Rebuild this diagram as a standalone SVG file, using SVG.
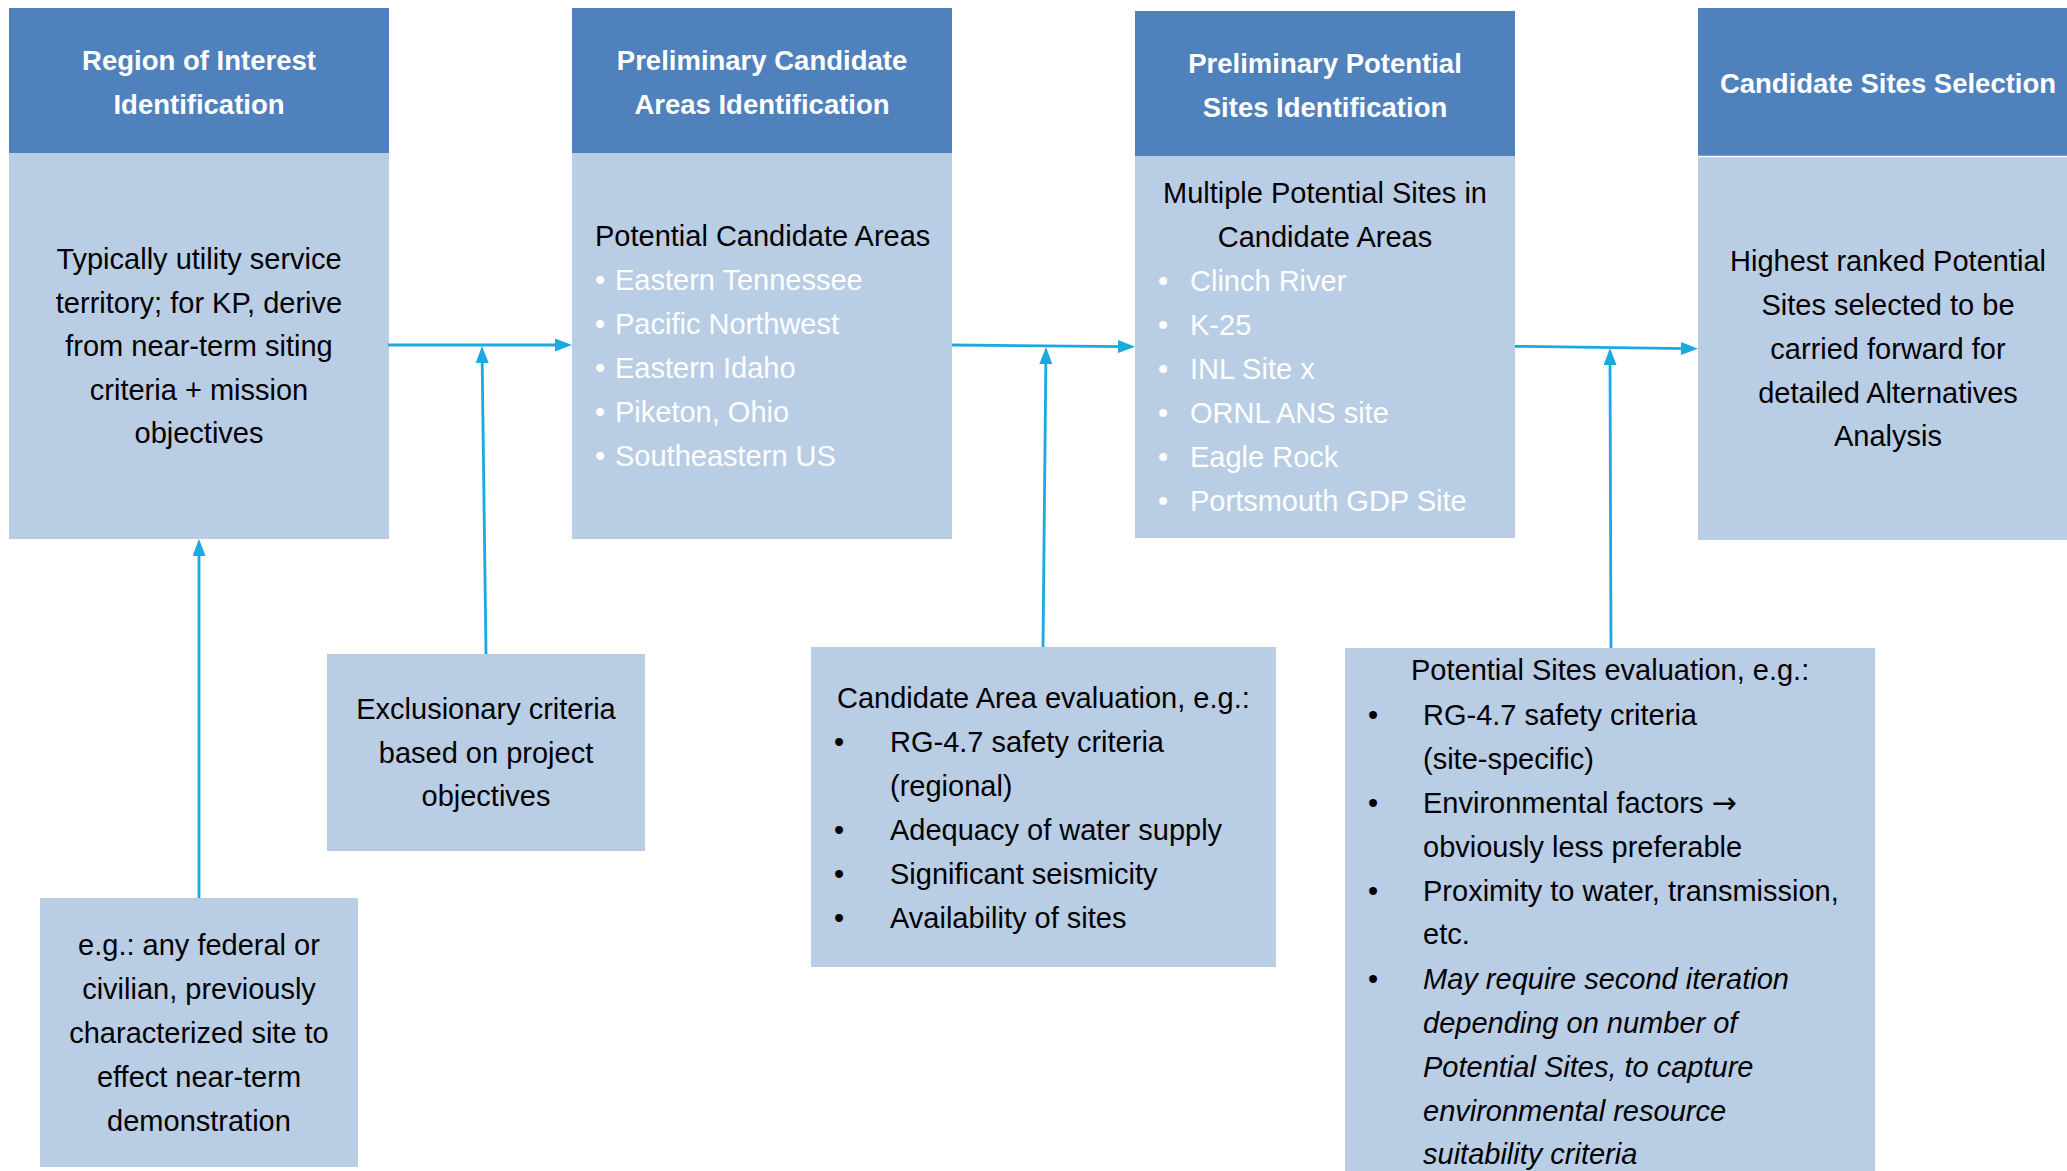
<svg xmlns="http://www.w3.org/2000/svg" width="2067" height="1171" viewBox="0 0 2067 1171">
<defs>
<style>
.hdr{fill:#4F81BD}
.bd{fill:#B9CDE5}
.ht{font-family:"Liberation Sans",Arial,sans-serif;font-weight:bold;font-size:27.5px;fill:#FFFFFF;text-anchor:middle}
.bt{font-family:"Liberation Sans",Arial,sans-serif;font-size:29px;fill:#000000}
.c{text-anchor:middle}
.w{fill:#FFFFFF}
.it{font-style:italic}
.ar{font-family:"DejaVu Sans",sans-serif;font-size:30px}
.conn{stroke:#1CA9E1;stroke-width:2.8;fill:none}
</style>
<marker id="ah" markerUnits="userSpaceOnUse" markerWidth="18" markerHeight="14" refX="7" refY="6.5" orient="auto">
<path d="M0,0 L17,6.5 L0,13 z" fill="#1CA9E1"/>
</marker>
</defs>
<rect width="2067" height="1171" fill="#FFFFFF"/>

<g id="n1">
<rect class="hdr" x="9" y="8" width="380" height="145"/>
<rect class="bd" x="9" y="153" width="380" height="386"/>
<text class="ht" x="199" y="70">Region of Interest</text>
<text class="ht" x="199" y="113.5">Identification</text>
<text class="bt c" x="199" y="269">Typically utility service</text>
<text class="bt c" x="199" y="313">territory; for KP, derive</text>
<text class="bt c" x="199" y="356">from near-term siting</text>
<text class="bt c" x="199" y="400">criteria + mission</text>
<text class="bt c" x="199" y="443">objectives</text>
</g>

<g id="n2">
<rect class="hdr" x="572" y="8" width="380" height="145"/>
<rect class="bd" x="572" y="153" width="380" height="386"/>
<text class="ht" x="762" y="70">Preliminary Candidate</text>
<text class="ht" x="762" y="113.5">Areas Identification</text>
<text class="bt" x="595" y="246">Potential Candidate Areas</text>
<text class="bt w" x="595" y="290">•</text><text class="bt w" x="615" y="290">Eastern Tennessee</text>
<text class="bt w" x="595" y="334">•</text><text class="bt w" x="615" y="334">Pacific Northwest</text>
<text class="bt w" x="595" y="378">•</text><text class="bt w" x="615" y="378">Eastern Idaho</text>
<text class="bt w" x="595" y="422">•</text><text class="bt w" x="615" y="422">Piketon, Ohio</text>
<text class="bt w" x="595" y="466">•</text><text class="bt w" x="615" y="466">Southeastern US</text>
</g>

<g id="n3">
<rect class="hdr" x="1135" y="11" width="380" height="145"/>
<rect class="bd" x="1135" y="156" width="380" height="382"/>
<text class="ht" x="1325" y="73">Preliminary Potential</text>
<text class="ht" x="1325" y="116.5">Sites Identification</text>
<text class="bt c" x="1325" y="203">Multiple Potential Sites in</text>
<text class="bt c" x="1325" y="247">Candidate Areas</text>
<text class="bt w" x="1158" y="291">•</text><text class="bt w" x="1190" y="291">Clinch River</text>
<text class="bt w" x="1158" y="335">•</text><text class="bt w" x="1190" y="335">K-25</text>
<text class="bt w" x="1158" y="379">•</text><text class="bt w" x="1190" y="379">INL Site x</text>
<text class="bt w" x="1158" y="423">•</text><text class="bt w" x="1190" y="423">ORNL ANS site</text>
<text class="bt w" x="1158" y="467">•</text><text class="bt w" x="1190" y="467">Eagle Rock</text>
<text class="bt w" x="1158" y="511">•</text><text class="bt w" x="1190" y="511">Portsmouth GDP Site</text>
</g>

<g id="n4">
<rect class="hdr" x="1698" y="8" width="380" height="148"/>
<rect class="bd" x="1698" y="157" width="380" height="383"/>
<text class="ht" x="1888" y="93">Candidate Sites Selection</text>
<text class="bt c" x="1888" y="271">Highest ranked Potential</text>
<text class="bt c" x="1888" y="315">Sites selected to be</text>
<text class="bt c" x="1888" y="359">carried forward for</text>
<text class="bt c" x="1888" y="403">detailed Alternatives</text>
<text class="bt c" x="1888" y="446">Analysis</text>
</g>

<g id="n5">
<rect class="bd" x="327" y="654" width="318" height="197"/>
<text class="bt c" x="486" y="719">Exclusionary criteria</text>
<text class="bt c" x="486" y="763">based on project</text>
<text class="bt c" x="486" y="806">objectives</text>
</g>

<g id="n6">
<rect class="bd" x="40" y="898" width="318" height="269"/>
<text class="bt c" x="199" y="955">e.g.: any federal or</text>
<text class="bt c" x="199" y="999">civilian, previously</text>
<text class="bt c" x="199" y="1043">characterized site to</text>
<text class="bt c" x="199" y="1087">effect near-term</text>
<text class="bt c" x="199" y="1131">demonstration</text>
</g>

<g id="n7">
<rect class="bd" x="811" y="647" width="465" height="320"/>
<text class="bt" x="837" y="708">Candidate Area evaluation, e.g.:</text>
<text class="bt" x="834" y="752">•</text><text class="bt" x="890" y="752">RG-4.7 safety criteria</text>
<text class="bt" x="890" y="796">(regional)</text>
<text class="bt" x="834" y="840">•</text><text class="bt" x="890" y="840">Adequacy of water supply</text>
<text class="bt" x="834" y="884">•</text><text class="bt" x="890" y="884">Significant seismicity</text>
<text class="bt" x="834" y="928">•</text><text class="bt" x="890" y="928">Availability of sites</text>
</g>

<g id="n8">
<rect class="bd" x="1345" y="648" width="530" height="530"/>
<text class="bt" x="1411" y="680">Potential Sites evaluation, e.g.:</text>
<text class="bt" x="1368" y="725">•</text><text class="bt" x="1423" y="725">RG-4.7 safety criteria</text>
<text class="bt" x="1423" y="769">(site-specific)</text>
<text class="bt" x="1368" y="813">•</text><text class="bt" x="1423" y="813">Environmental factors <tspan class="ar">→</tspan></text>
<text class="bt" x="1423" y="857">obviously less preferable</text>
<text class="bt" x="1368" y="901">•</text><text class="bt" x="1423" y="901">Proximity to water, transmission,</text>
<text class="bt" x="1423" y="944">etc.</text>
<text class="bt" x="1368" y="989">•</text><text class="bt it" x="1423" y="989">May require second iteration</text>
<text class="bt it" x="1423" y="1033">depending on number of</text>
<text class="bt it" x="1423" y="1077">Potential Sites, to capture</text>
<text class="bt it" x="1423" y="1121">environmental resource</text>
<text class="bt it" x="1423" y="1164">suitability criteria</text>
</g>

<g id="connectors">
<line class="conn" x1="388" y1="345" x2="562" y2="345" marker-end="url(#ah)"/>
<line class="conn" x1="486" y1="654" x2="482.1" y2="356" marker-end="url(#ah)"/>
<line class="conn" x1="199" y1="898" x2="199" y2="549" marker-end="url(#ah)"/>
<line class="conn" x1="952" y1="345" x2="1125" y2="346.6" marker-end="url(#ah)"/>
<line class="conn" x1="1043" y1="647" x2="1045.9" y2="357" marker-end="url(#ah)"/>
<line class="conn" x1="1515" y1="346.3" x2="1688" y2="348.6" marker-end="url(#ah)"/>
<line class="conn" x1="1611" y1="648" x2="1610" y2="358" marker-end="url(#ah)"/>
</g>
<line x1="1698" y1="156.5" x2="2067" y2="156.5" stroke="#FFFFFF" stroke-width="1.5"/>
</svg>
